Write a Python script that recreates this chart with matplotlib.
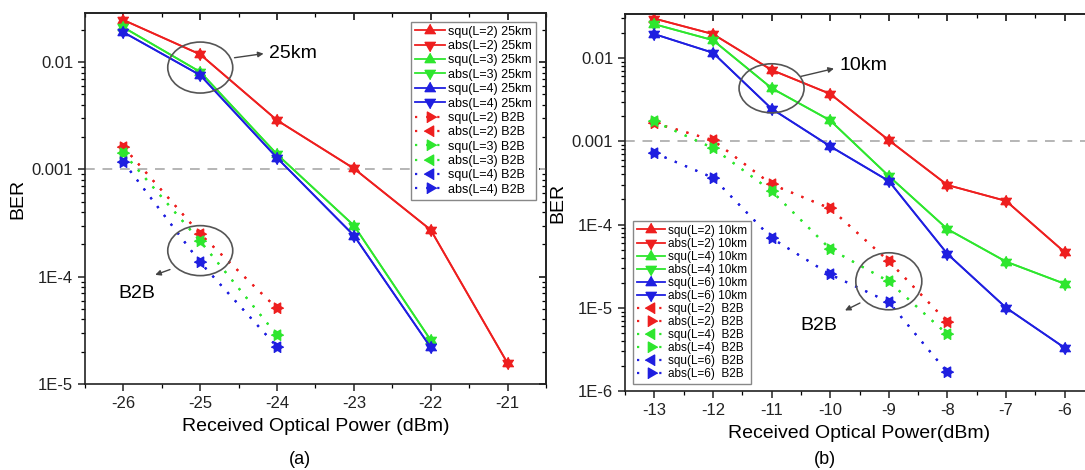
import numpy as np
import matplotlib
matplotlib.use("Agg")
import matplotlib.pyplot as plt
from matplotlib.patches import Ellipse
from matplotlib.transforms import ScaledTranslation
from matplotlib.ticker import MultipleLocator, LogLocator, NullFormatter, FuncFormatter

plt.rcParams['font.family'] = ['Liberation Sans', 'DejaVu Sans']
plt.rcParams['axes.unicode_minus'] = False

# ---- (a) 25 km ----
x_a = [-26, -25, -24, -23, -22, -21]
ber_a_L2 = [0.0247, 0.0118, 0.00287, 0.00102, 2.73e-4, 1.56e-5]
x_a_L34 = [-26, -25, -24, -23, -22]
ber_a_L3 = [0.0211, 0.0081, 0.00138, 3.0e-4, 2.56e-5]
ber_a_L4 = [0.0190, 0.00756, 0.00128, 2.42e-4, 2.19e-5]

x_a_b2b = [-26, -25, -24]
b2b_a_L2 = [0.00162, 2.5e-4, 5.06e-5]
b2b_a_L3 = [0.00142, 2.14e-4, 2.85e-5]
b2b_a_L4 = [0.00117, 1.36e-4, 2.22e-5]

# ---- (b) 10 km ----
x_b = [-13, -12, -11, -10, -9, -8, -7, -6]
ber_b_L2 = [0.0298, 0.0194, 0.00719, 0.00371, 0.00103, 2.98e-4, 1.92e-4, 4.65e-5]
ber_b_L4 = [0.0255, 0.0164, 0.00435, 0.00178, 3.82e-4, 8.8e-5, 3.58e-5, 1.94e-5]
ber_b_L6 = [0.0194, 0.01157, 0.00246, 8.7e-4, 3.33e-4, 4.43e-5, 1.0e-5, 3.3e-6]

x_b_b2b = [-13, -12, -11, -10, -9, -8]
b2b_b_L2 = [0.00166, 0.00103, 3.04e-4, 1.56e-4, 3.63e-5, 6.76e-6]
b2b_b_L4 = [0.00173, 8.3e-4, 2.53e-4, 5.08e-5, 2.07e-5, 4.78e-6]
b2b_b_L6 = [7.26e-4, 3.65e-4, 6.87e-5, 2.51e-5, 1.17e-5, 1.67e-6]

fec_limit = 1e-3

RED = '#ee1f1f'
GREEN = '#2ee62e'
BLUE = '#1f1fe0'

# triangles centred on their centroid, so up+down overlap into a star
UP = [(0, 1), (-0.866, -0.5), (0.866, -0.5)]
DOWN = [(0, -1), (-0.866, 0.5), (0.866, 0.5)]
RIGHT = [(1, 0), (-0.5, 0.866), (-0.5, -0.866)]
LEFT = [(-1, 0), (0.5, 0.866), (0.5, -0.866)]

ylabels = {1e-2: '0.01', 1e-3: '0.001', 1e-4: '1E-4', 1e-5: '1E-5', 1e-6: '1E-6'}


def fmt(v, pos):
    for k, s in ylabels.items():
        if abs(np.log10(v) - np.log10(k)) < 0.01:
            return s
    return ''


fig = plt.figure(figsize=(10.85, 4.70), dpi=100)
ax1 = fig.add_axes([85 / 1085, 86 / 470, 461 / 1085, 371 / 470])
ax2 = fig.add_axes([625 / 1085, 79 / 470, 469 / 1085, 377 / 470])

solid = dict(linestyle='-', linewidth=1.3, markersize=9)
dots = dict(linestyle=(0, (1, 4)), linewidth=1.6, markersize=9)

# panel (a)
ax1.axhline(fec_limit, color='#b5b5b5', linestyle=(0, (5, 4)), linewidth=1.4, zorder=1)
ax1.plot(x_a, ber_a_L2, color=RED, marker=UP, label='squ(L=2) 25km', **solid)
ax1.plot(x_a, ber_a_L2, color=RED, marker=DOWN, label='abs(L=2) 25km', **solid)
ax1.plot(x_a_L34, ber_a_L3, color=GREEN, marker=UP, label='squ(L=3) 25km', **solid)
ax1.plot(x_a_L34, ber_a_L3, color=GREEN, marker=DOWN, label='abs(L=3) 25km', **solid)
ax1.plot(x_a_L34, ber_a_L4, color=BLUE, marker=UP, label='squ(L=4) 25km', **solid)
ax1.plot(x_a_L34, ber_a_L4, color=BLUE, marker=DOWN, label='abs(L=4) 25km', **solid)
ax1.plot(x_a_b2b, b2b_a_L2, color=RED, marker=RIGHT, label='squ(L=2) B2B', **dots)
ax1.plot(x_a_b2b, b2b_a_L2, color=RED, marker=LEFT, label='abs(L=2) B2B', **dots)
ax1.plot(x_a_b2b, b2b_a_L3, color=GREEN, marker=RIGHT, label='squ(L=3) B2B', **dots)
ax1.plot(x_a_b2b, b2b_a_L3, color=GREEN, marker=LEFT, label='abs(L=3) B2B', **dots)
ax1.plot(x_a_b2b, b2b_a_L4, color=BLUE, marker=LEFT, label='squ(L=4) B2B', **dots)
ax1.plot(x_a_b2b, b2b_a_L4, color=BLUE, marker=RIGHT, label='abs(L=4) B2B', **dots)

# panel (b)
ax2.axhline(fec_limit, color='#b5b5b5', linestyle=(0, (5, 4)), linewidth=1.4, zorder=1)
ax2.plot(x_b, ber_b_L2, color=RED, marker=UP, label='squ(L=2) 10km', **solid)
ax2.plot(x_b, ber_b_L2, color=RED, marker=DOWN, label='abs(L=2) 10km', **solid)
ax2.plot(x_b, ber_b_L4, color=GREEN, marker=UP, label='squ(L=4) 10km', **solid)
ax2.plot(x_b, ber_b_L4, color=GREEN, marker=DOWN, label='abs(L=4) 10km', **solid)
ax2.plot(x_b, ber_b_L6, color=BLUE, marker=UP, label='squ(L=6) 10km', **solid)
ax2.plot(x_b, ber_b_L6, color=BLUE, marker=DOWN, label='abs(L=6) 10km', **solid)
ax2.plot(x_b_b2b, b2b_b_L2, color=RED, marker=LEFT, label='squ(L=2)  B2B', **dots)
ax2.plot(x_b_b2b, b2b_b_L2, color=RED, marker=RIGHT, label='abs(L=2)  B2B', **dots)
ax2.plot(x_b_b2b, b2b_b_L4, color=GREEN, marker=LEFT, label='squ(L=4)  B2B', **dots)
ax2.plot(x_b_b2b, b2b_b_L4, color=GREEN, marker=RIGHT, label='abs(L=4)  B2B', **dots)
ax2.plot(x_b_b2b, b2b_b_L6, color=BLUE, marker=LEFT, label='squ(L=6)  B2B', **dots)
ax2.plot(x_b_b2b, b2b_b_L6, color=BLUE, marker=RIGHT, label='abs(L=6)  B2B', **dots)

ax1.set_xlim(-26.5, -20.5)
ax1.set_ylim(1e-5, 0.0287)
ax2.set_xlim(-13.5, -5.5)
ax2.set_ylim(1e-6, 0.0338)

for ax, xt in ((ax1, x_a), (ax2, x_b)):
    ax.set_yscale('log')
    ax.set_xticks(xt)
    ax.xaxis.set_minor_locator(MultipleLocator(0.5))
    ax.yaxis.set_major_locator(LogLocator(base=10, numticks=20))
    ax.yaxis.set_minor_locator(LogLocator(base=10, subs=np.arange(2, 10), numticks=20))
    ax.yaxis.set_major_formatter(FuncFormatter(fmt))
    ax.yaxis.set_minor_formatter(NullFormatter())
    ax.tick_params(which='major', direction='out', length=5, width=1.1, labelsize=12, colors='#222222')
    ax.tick_params(which='minor', direction='out', length=3, width=0.9)
    for s in ax.spines.values():
        s.set_linewidth(1.2)
        s.set_color('#222222')
    ax.set_ylabel('BER', fontsize=14, labelpad=4)

    top = ax.secondary_xaxis('top')
    top.set_xticks(xt)
    top.xaxis.set_minor_locator(MultipleLocator(0.5))
    top.tick_params(which='major', direction='in', length=5, width=1.1, labeltop=False)
    top.tick_params(which='minor', direction='in', length=3, width=0.9)
    right = ax.secondary_yaxis('right')
    right.yaxis.set_major_locator(LogLocator(base=10, numticks=20))
    right.yaxis.set_minor_locator(LogLocator(base=10, subs=np.arange(2, 10), numticks=20))
    right.tick_params(which='major', direction='in', length=5, width=1.1, labelright=False)
    right.tick_params(which='minor', direction='in', length=3, width=0.9, labelright=False)
    right.yaxis.set_minor_formatter(NullFormatter())
    for s in list(top.spines.values()) + list(right.spines.values()):
        s.set_linewidth(1.2)
        s.set_color('#222222')

ax1.set_xlabel('Received Optical Power (dBm)', fontsize=14, labelpad=5)
ax2.set_xlabel('Received Optical Power(dBm)', fontsize=14, labelpad=5)

leg_kw = dict(fontsize=9, frameon=True, fancybox=False, labelspacing=0.19,
              handlelength=2.4, handletextpad=0.25, borderpad=0.3, borderaxespad=0,
              edgecolor='#888888', framealpha=1)
l1 = ax1.legend(loc='upper right', bbox_to_anchor=(0.978, 0.976), **leg_kw)
l1.get_frame().set_linewidth(1.0)
leg_kw['fontsize'] = 8.5
leg_kw['labelspacing'] = 0.09
l2 = ax2.legend(loc='lower left', bbox_to_anchor=(0.017, 0.019), **leg_kw)
l2.get_frame().set_linewidth(1.0)


def ring(ax, x, y, w, h):
    tr = fig.dpi_scale_trans + ScaledTranslation(x, y, ax.transData)
    ax.add_patch(Ellipse((0, 0), w, h, transform=tr, fill=False,
                         edgecolor='#555555', linewidth=1.2, zorder=5))


arrow = dict(arrowstyle='-|>', color='#444444', lw=1.0, mutation_scale=8)

# (a) annotations
ring(ax1, -25, 0.0089, 0.65, 0.51)
ax1.annotate('', xy=(-24.14, 0.0121), xytext=(-24.59, 0.0109), arrowprops=arrow)
ax1.text(-24.1, 0.0121, '25km', fontsize=14, ha='left', va='center')
ring(ax1, -25, 1.75e-4, 0.65, 0.50)
ax1.annotate('', xy=(-25.62, 1.02e-4), xytext=(-25.36, 1.19e-4), arrowprops=arrow)
ax1.text(-25.82, 6.9e-5, 'B2B', fontsize=14, ha='center', va='center')

# (b) annotations
ring(ax2, -11, 0.00433, 0.65, 0.49)
ax2.annotate('', xy=(-9.89, 0.0076), xytext=(-10.55, 0.0059), arrowprops=arrow)
ax2.text(-9.84, 0.0082, '10km', fontsize=14, ha='left', va='center')
ring(ax2, -9, 2.08e-5, 0.66, 0.57)
ax2.annotate('', xy=(-9.79, 8.97e-6), xytext=(-9.45, 1.18e-5), arrowprops=arrow)
ax2.text(-10.2, 6.1e-6, 'B2B', fontsize=14, ha='center', va='center')

fig.text(300 / 1085, 1 - 460 / 470, '(a)', fontsize=13, ha='center', va='center')
fig.text(825 / 1085, 1 - 460 / 470, '(b)', fontsize=13, ha='center', va='center')

fig.savefig('out.png', dpi=100)
